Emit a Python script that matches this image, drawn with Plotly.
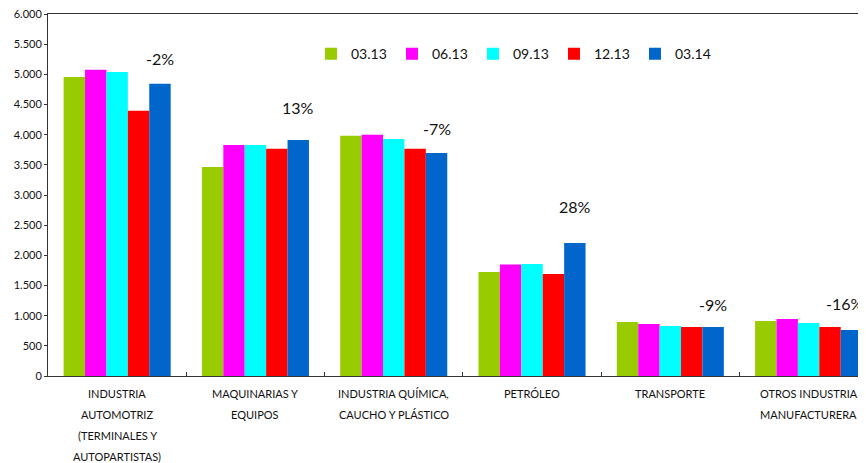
import plotly.graph_objects as go

CATEGORIES = [
    ["INDUSTRIA", "AUTOMOTRIZ", "(TERMINALES Y", "AUTOPARTISTAS)"],
    ["MAQUINARIAS Y", "EQUIPOS"],
    ["INDUSTRIA QUÍMICA,", "CAUCHO Y PLÁSTICO"],
    ["PETRÓLEO"],
    ["TRANSPORTE"],
    ["OTROS INDUSTRIA", "MANUFACTURERA"],
]
PERIODS = ["03.13", "06.13", "09.13", "12.13", "03.14"]
VALUES = {
    "03.13": [4955, 3466, 3980, 1725, 895, 912],
    "06.13": [5075, 3830, 3997, 1846, 862, 945],
    "09.13": [5040, 3830, 3930, 1857, 829, 879],
    "12.13": [4395, 3765, 3765, 1691, 813, 813],
    "03.14": [4842, 3913, 3698, 2206, 813, 763],
}
CHANGE_LABELS = ["-2%", "13%", "-7%", "28%", "-9%", "-16%"]
LABEL_Y = [5257, 4444, 4096, 2803, 1177, 1194]

COLORS = ["#99CC00", "#FF00FF", "#00FFFF", "#FF0000", "#0066CC"]
FONT = "Lato, 'DejaVu Sans', sans-serif"
BARGAP = 0.226

x_idx = list(range(len(CATEGORIES)))

fig = go.Figure()
for period, color in zip(PERIODS, COLORS):
    fig.add_trace(
        go.Bar(x=x_idx, y=VALUES[period], name=period, marker_color=color,
               marker_line_width=0)
    )

annotations = []
# percent change, above the last (blue) bar of each group
bar_w = (1 - BARGAP) / len(PERIODS)
for i, (txt, yv) in enumerate(zip(CHANGE_LABELS, LABEL_Y)):
    annotations.append(dict(
        x=i + 2 * bar_w, y=yv, xref="x", yref="y", text=txt, showarrow=False,
        xshift=-6 if i == len(CHANGE_LABELS) - 1 else 0,
        font=dict(family=FONT, size=16, color="#111111"),
    ))
# category labels, one line per annotation to get the wide line spacing
for i, lines in enumerate(CATEGORIES):
    for j, line in enumerate(lines):
        annotations.append(dict(
            x=i, y=0, xref="x", yref="y", text=line, showarrow=False,
            yanchor="middle", yshift=-(17 + 21 * j),
            font=dict(family=FONT, size=11, color="#111111"),
        ))

# the page body has an 8px margin, so the figure is shifted by 8px
fig.update_layout(
    width=866, height=463,
    margin=dict(l=40, r=8, t=6, b=95, autoexpand=False),
    paper_bgcolor="white", plot_bgcolor="white",
    separators=",.",
    barmode="group", bargap=BARGAP, bargroupgap=0,
    font=dict(family=FONT, size=11, color="#111111"),
    showlegend=True,
    legend=dict(
        orientation="h", x=0.3215, y=0.889, xanchor="left", yanchor="middle",
        font=dict(family=FONT, size=14, color="#111111"),
        entrywidth=36, entrywidthmode="pixels",
        itemwidth=30, bgcolor="rgba(0,0,0,0)",
    ),
    annotations=annotations,
)
fig.update_xaxes(
    type="linear", range=[-0.5, 5.415], showticklabels=False,
    tickvals=[i - 0.5 for i in range(7)], ticks="inside", ticklen=4,
    tickcolor="#333333", showline=True, linecolor="#333333", linewidth=1,
    mirror=True, showgrid=False, zeroline=False,
)
fig.update_yaxes(
    range=[0, 6000], dtick=500, tickformat=",.0f", ticks="outside", ticklen=3,
    tickcolor="#333333", showline=True, linecolor="#333333", linewidth=1,
    showgrid=False, zeroline=False, tickfont=dict(size=11),
    ticklabeloverflow="allow",
)

fig.write_html("out.html")
